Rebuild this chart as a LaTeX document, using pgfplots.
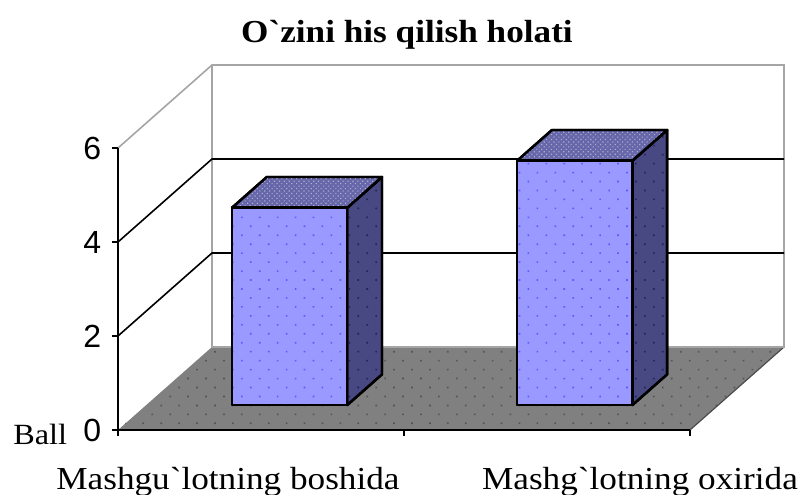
\documentclass[border=0pt]{standalone}
\usepackage{fontspec}
\setmainfont{Liberation Sans}
\newfontfamily\lab[FakeStretch=1.1]{Liberation Serif}
\usepackage{pgfplots}
\pgfplotsset{compat=1.18}
\usetikzlibrary{patterns.meta}

\definecolor{front}{RGB}{153,153,255}
\definecolor{frontdot}{RGB}{90,90,255}
\definecolor{topc}{RGB}{102,102,170}
\definecolor{topdot}{RGB}{175,175,205}
\definecolor{sidec}{RGB}{72,72,130}
\definecolor{sidedot}{RGB}{35,35,85}
\definecolor{floorc}{RGB}{128,128,128}
\definecolor{floordot}{RGB}{85,85,85}
\definecolor{wall}{RGB}{165,165,165}

\tikzset{
  dotsfront/.style={pattern={Dots[distance=9.5pt,radius=0.85pt,angle=45]},pattern color=frontdot},
  dotsside/.style={pattern={Dots[distance=9.5pt,radius=0.85pt,angle=45]},pattern color=sidedot},
  dotsfloor/.style={pattern={Dots[distance=9.5pt,radius=0.9pt,angle=45]},pattern color=floordot},
  dotstop/.style={pattern={Dots[distance=2.6pt,radius=0.6pt,angle=45]},pattern color=topdot},
}

% one bar: x from #1 to #2, value #3
\newcommand{\onebar}[3]{%
  \addplot3[draw=black,line width=1.8pt,line join=round,fill=sidec,postaction={dotsside}] coordinates {(#2,0.3,0) (#2,0.67,0) (#2,0.67,#3) (#2,0.3,#3)} -- cycle;
  \addplot3[draw=black,line width=1.8pt,line join=round,fill=topc,postaction={dotstop}] coordinates {(#1,0.3,#3) (#2,0.3,#3) (#2,0.67,#3) (#1,0.67,#3)} -- cycle;
  \addplot3[draw=black,line width=1.8pt,line join=round,fill=front,postaction={dotsfront}] coordinates {(#1,0.3,0) (#2,0.3,0) (#2,0.3,#3) (#1,0.3,#3)} -- cycle;
}

\begin{document}
\begin{tikzpicture}
\path[use as bounding box] (0,0) rectangle (600.75pt,371.25pt);
\begin{axis}[
  at={(88.5pt,48.75pt)},
  anchor=origin,
  x={(214.5pt,0pt)},
  y={(70.5pt,62.25pt)},
  z={(0pt,35.25pt)},
  xmin=0,xmax=2,ymin=0,ymax=1,zmin=0,zmax=6,
  axis lines=none,
  clip=false,
]
% floor
\addplot3[draw=none,fill=floorc,postaction={dotsfloor}] coordinates {(0,0,0) (2,0,0) (2,1,0) (0,1,0)} -- cycle;
\addplot3[draw=black!70,line width=0.9pt] coordinates {(2,0,0) (2,1,0)};
% back wall and left wall frame
\addplot3[draw=wall,line width=1.2pt] coordinates {(0,0,6) (0,1,6) (2,1,6) (2,1,0) (0,1,0) (0,1,6)};
% grid lines
\addplot3[draw=black,line width=1.2pt] coordinates {(0,0,2) (0,1,2) (2,1,2)};
\addplot3[draw=black,line width=1.2pt] coordinates {(0,0,4) (0,1,4) (2,1,4)};
% front axes
\addplot3[draw=black,line width=1.5pt] coordinates {(0,0,6) (0,0,0) (2,0,0)};
% ticks
\addplot3[draw=black,line width=1.2pt] coordinates {(0,0,0) (-0.021,0,0)};
\addplot3[draw=black,line width=1.2pt] coordinates {(0,0,2) (-0.021,0,2)};
\addplot3[draw=black,line width=1.2pt] coordinates {(0,0,4) (-0.021,0,4)};
\addplot3[draw=black,line width=1.2pt] coordinates {(0,0,6) (-0.021,0,6)};
\addplot3[draw=black,line width=1.2pt] coordinates {(0,0,0) (0,0,-0.13)};
\addplot3[draw=black,line width=1.2pt] coordinates {(1,0,0) (1,0,-0.13)};
\addplot3[draw=black,line width=1.2pt] coordinates {(2,0,0) (2,0,-0.13)};
% bars
\onebar{0.30}{0.703}{4.2}
\onebar{1.297}{1.70}{5.2}
% tick labels
\node[font=\fontsize{24}{24}\selectfont,anchor=east] at (axis cs:-0.042,0,0) {0};
\node[font=\fontsize{24}{24}\selectfont,anchor=east] at (axis cs:-0.042,0,2) {2};
\node[font=\fontsize{24}{24}\selectfont,anchor=east] at (axis cs:-0.042,0,4) {4};
\node[font=\fontsize{24}{24}\selectfont,anchor=east] at (axis cs:-0.042,0,6) {6};
\end{axis}
% text, positions in px*0.75
\node[font=\lab\bfseries\fontsize{24}{24}\selectfont,anchor=base] at (305.25pt,339.5pt) {O`zini his qilish holati};
\node[font=\lab\fontsize{24}{24}\selectfont,anchor=base] at (171pt,3.75pt) {Mashgu`lotning boshida};
\node[font=\lab\fontsize{24}{24}\selectfont,anchor=base] at (480pt,3.75pt) {Mashg`lotning oxirida};
\node[font=\lab\fontsize{22}{22}\selectfont,anchor=base west,inner sep=0pt] at (9.75pt,37.5pt) {Ball};
\end{tikzpicture}
\end{document}
